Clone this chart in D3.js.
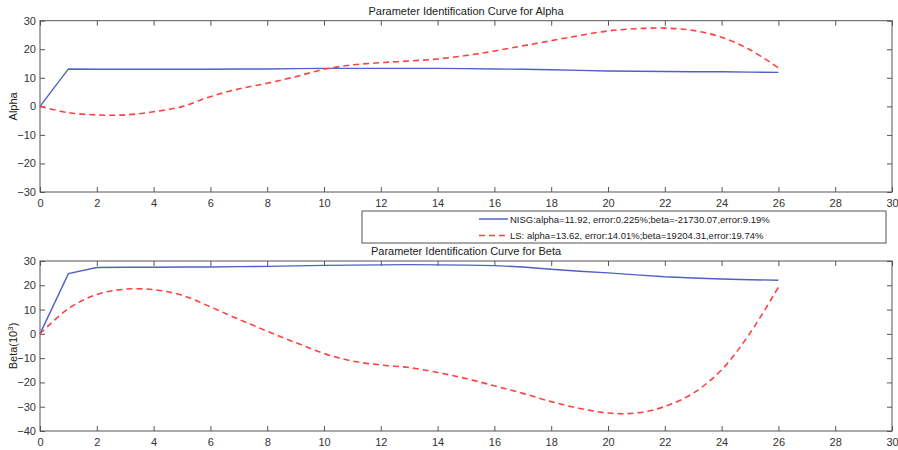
<!DOCTYPE html>
<html><head><meta charset="utf-8">
<script src="https://cdn.jsdelivr.net/npm/d3@7"></script>
<style>body{margin:0;background:#fff}svg{display:block}text{font-family:"Liberation Sans",Arial,sans-serif}</style>
</head><body><svg id="c" width="898" height="450"></svg>
<script>
const xs = d3.range(0, 27);
const alphaNISG = [0,13.1,13.0,13.0,13.0,13.0,13.0,13.1,13.1,13.2,13.3,13.3,13.3,13.3,13.3,13.2,13.1,13.0,12.8,12.6,12.4,12.3,12.2,12.1,12.1,12.0,11.9];
const alphaLS   = [0,-2.2,-3.0,-3.0,-1.9,-0.1,3.4,6.1,8.1,10.4,13.0,14.5,15.3,15.9,16.6,17.8,19.4,21.2,23.0,24.8,26.4,27.2,27.4,26.6,24.2,19.8,13.5];
const betaNISG  = [0,24.8,27.3,27.4,27.4,27.5,27.5,27.7,27.8,28.0,28.2,28.3,28.4,28.5,28.4,28.3,28.1,27.5,26.6,25.8,25.1,24.3,23.5,23.0,22.6,22.3,22.1];
const betaLS    = [0,10.4,16.2,18.4,18.2,15.9,11.1,6.0,1.1,-3.6,-8.1,-11.2,-12.8,-13.9,-15.9,-18.4,-21.4,-24.5,-27.9,-30.7,-32.6,-32.6,-29.9,-24.4,-14.8,0.3,19.2];
const xTicks = d3.range(0, 31, 2);
const alphaTicks = [-30,-20,-10,0,10,20,30];
const betaTicks = [-40,-30,-20,-10,0,10,20,30];
const titles = ["Parameter Identification Curve for Alpha","Parameter Identification Curve for Beta"];
const legendLabels = ["NISG:alpha=11.92, error:0.225%;beta=-21730.07,error:9.19%","LS: alpha=13.62, error:14.01%;beta=19204.31,error:19.74%"];

const svg = d3.select("#c");
const blue = "#5060c6", red = "#ff4040", axisCol = "#555", txtCol = "#333";
const L = 40, R = 892;

function panel(top, bottom, ydom, yticks, s1, s2, title) {
  const x = d3.scaleLinear().domain([0,30]).range([L,R]);
  const y = d3.scaleLinear().domain(ydom).range([bottom,top]);
  const g = svg.append("g");
  g.append("rect").attr("x",L).attr("y",top).attr("width",R-L).attr("height",bottom-top)
    .attr("fill","none").attr("stroke",axisCol).attr("stroke-width",1);
  const ax = (gen, tr) => {
    const a = g.append("g").attr("transform",tr).call(gen);
    a.select(".domain").remove();
    a.selectAll("line").attr("stroke",axisCol);
    a.selectAll("text").attr("fill",txtCol).style("font-size","11px");
    return a;
  };
  ax(d3.axisBottom(x).tickValues(xTicks).tickSize(-5).tickPadding(7).tickFormat(d3.format("d")), `translate(0,${bottom})`);
  ax(d3.axisTop(x).tickValues(xTicks).tickSize(-5).tickFormat(""), `translate(0,${top})`);
  ax(d3.axisLeft(y).tickValues(yticks).tickSize(-5).tickPadding(4).tickFormat(d3.format("d")), `translate(${L},0)`);
  ax(d3.axisRight(y).tickValues(yticks).tickSize(-5).tickFormat(""), `translate(${R},0)`);
  const smooth = d3.line().x((d,i)=>x(xs[i])).y(d=>y(d)).curve(d3.curveCatmullRom.alpha(0.5));
  const straight = d3.line().x((d,i)=>x(xs[i])).y(d=>y(d));
  g.append("path").datum(s1).attr("d",straight).attr("fill","none").attr("stroke",blue).attr("stroke-width",1.4);
  g.append("path").datum(s2).attr("d",smooth).attr("fill","none").attr("stroke",red).attr("stroke-width",1.6).attr("stroke-dasharray","6,4");
  g.append("text").attr("x",466).attr("y",top-6).attr("text-anchor","middle").attr("fill","#222").style("font-size","11px").text(title);
  return g.append("text").attr("transform",`translate(17,${(top+bottom)/2}) rotate(-90)`).attr("text-anchor","middle").attr("fill","#222").style("font-size","11px");
}
panel(20.7, 192, [-30,30], alphaTicks, alphaNISG, alphaLS, titles[0]).text("Alpha");
const yl = panel(261, 431, [-40,30], betaTicks, betaNISG, betaLS, titles[1]);
yl.text("Beta(10");
yl.append("tspan").attr("dy",-4).style("font-size","8px").text("3");
yl.append("tspan").attr("dy",4).text(")");

const lg = svg.append("g");
lg.append("rect").attr("x",362).attr("y",211).attr("width",524).attr("height",32).attr("fill","#fff").attr("stroke",axisCol);
const ly = [219, 235.5];
[blue, red].forEach((c,i)=>{
  lg.append("line").attr("x1",479).attr("x2",508).attr("y1",ly[i]).attr("y2",ly[i]).attr("stroke",c).attr("stroke-width",1.5)
    .attr("stroke-dasharray", i ? "6,4" : null);
  lg.append("text").attr("x",510).attr("y",ly[i]+3.5).attr("fill","#222").style("font-size","9.5px").text(legendLabels[i]);
});
</script></body></html>
